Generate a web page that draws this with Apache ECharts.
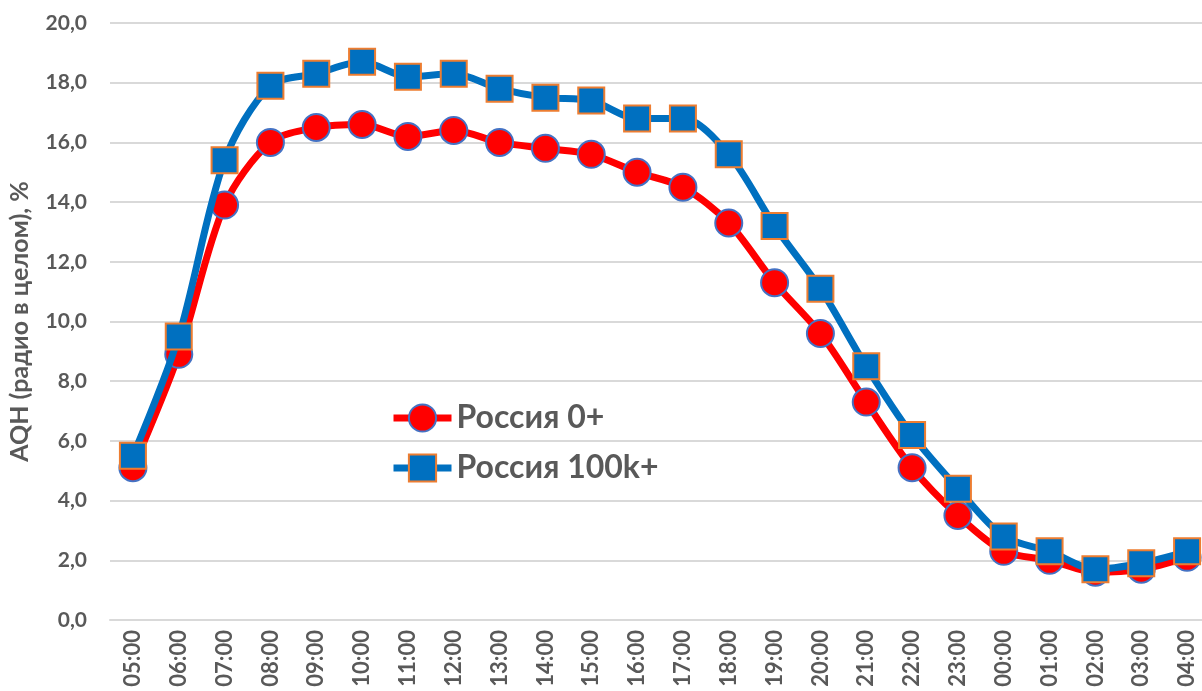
<!DOCTYPE html>
<html>
<head>
<meta charset="utf-8">
<script src="https://cdn.jsdelivr.net/npm/echarts@6/dist/echarts.min.js"></script>
<style>
html,body{margin:0;padding:0;background:#fff;}
#chart{width:1202px;height:691px;}
</style>
</head>
<body>
<div id="chart"></div>
<script>
const hours = ['05:00','06:00','07:00','08:00','09:00','10:00','11:00','12:00','13:00','14:00','15:00','16:00','17:00','18:00','19:00','20:00','21:00','22:00','23:00','00:00','01:00','02:00','03:00','04:00'];
const russia0 = [5.1,8.9,13.9,16.0,16.5,16.6,16.2,16.4,16.0,15.8,15.6,15.0,14.5,13.3,11.3,9.6,7.3,5.1,3.5,2.3,2.0,1.6,1.7,2.1];
const russia100k = [5.5,9.5,15.4,17.9,18.3,18.7,18.2,18.3,17.8,17.5,17.4,16.8,16.8,15.6,13.2,11.1,8.5,6.2,4.4,2.8,2.3,1.7,1.9,2.3];
const seriesNames = ['Россия 0+','Россия 100k+'];
const yAxisName = 'AQH (радио в целом), %';

const FONT = 'Lato';
const TXT = '#595959';

const chart = echarts.init(document.getElementById('chart'));
chart.setOption({
  animation:false,
  backgroundColor:'#ffffff',
  grid:{left:110, top:23, width:1100, height:597, containLabel:false, outerBoundsMode:'none'},
  legend:{
    orient:'vertical', left:390, top:402, padding:0, itemWidth:58, itemHeight:34, itemGap:18,
    lineStyle:{width:7},
    textStyle:{fontFamily:FONT, fontWeight:'bold', fontSize:32, color:TXT},
    data:seriesNames
  },
  xAxis:{
    type:'category', data:hours, boundaryGap:true,
    axisLine:{show:true, lineStyle:{color:'#D9D9D9', width:2}},
    axisTick:{show:false},
    axisLabel:{rotate:90, interval:0, margin:10, fontFamily:FONT, fontWeight:'bold', fontSize:22, color:TXT}
  },
  yAxis:{
    type:'value', min:0, max:20, interval:2,
    name:yAxisName, nameLocation:'middle', nameGap:78, nameRotate:90,
    nameTextStyle:{fontFamily:FONT, fontWeight:'bold', fontSize:25, color:TXT},
    axisLine:{show:false}, axisTick:{show:false},
    splitLine:{lineStyle:{color:'#D9D9D9', width:2}},
    axisLabel:{margin:23, fontFamily:FONT, fontWeight:'bold', fontSize:21, color:TXT,
      formatter:v=>v.toFixed(1).replace('.',',')}
  },
  series:[
    {
      name:seriesNames[0], type:'line', data:russia0, smooth:0.3,
      symbol:'circle', symbolSize:27,
      lineStyle:{color:'#FF0000', width:7},
      itemStyle:{color:'#FF0000', borderColor:'#4472C4', borderWidth:2},
      z:2
    },
    {
      name:seriesNames[1], type:'line', data:russia100k, smooth:0.3,
      symbol:'rect', symbolSize:26,
      lineStyle:{color:'#0070C0', width:7},
      itemStyle:{color:'#0070C0', borderColor:'#ED7D31', borderWidth:2},
      z:3
    }
  ]
});
</script>
</body>
</html>
